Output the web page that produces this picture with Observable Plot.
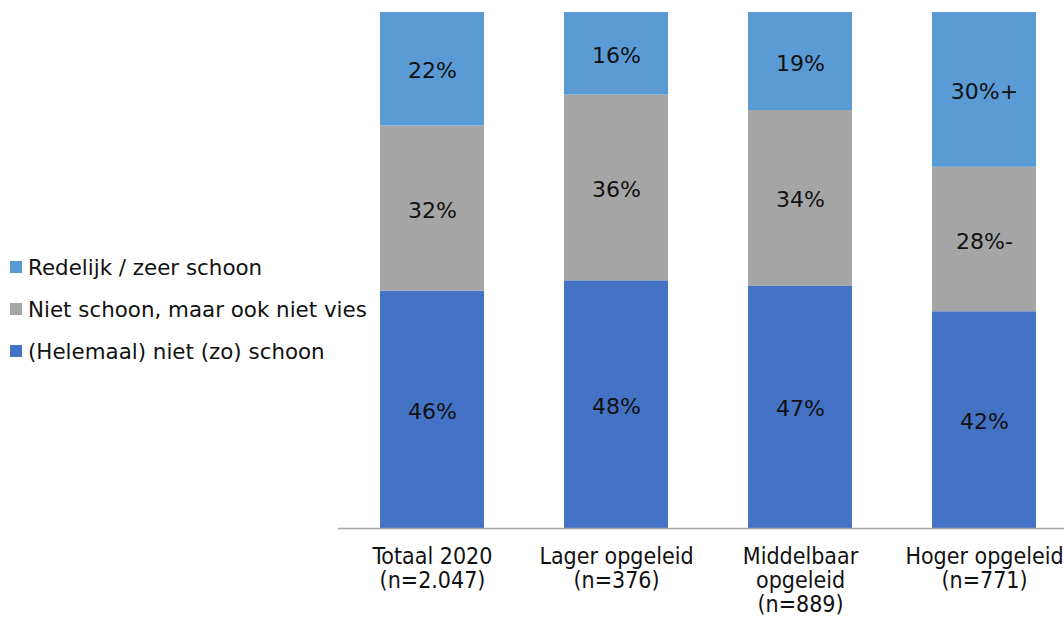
<!DOCTYPE html>
<html><head><meta charset="utf-8">
<script src="https://cdn.jsdelivr.net/npm/d3@7"></script>
<script src="https://cdn.jsdelivr.net/npm/@observablehq/plot@0.6"></script>
<style>
body{margin:0;background:#fff;}
#wrap{position:relative;width:1064px;height:622px;}
#legend{position:absolute;left:10px;top:246px;font-family:"DejaVu Sans",Verdana,sans-serif;font-size:21.4px;color:#111;}
#legend div{height:42px;display:flex;align-items:center;margin:0;white-space:nowrap;}
#legend span.sw{display:inline-block;width:12px;height:12px;margin-right:6px;}
</style></head>
<body><div id="wrap"><div id="legend"></div></div>
<script>
const categories = ["Totaal 2020", "Lager opgeleid", "Middelbaar", "Hoger opgeleid"];
const tickLabels = ["Totaal 2020\n(n=2.047)", "Lager opgeleid\n(n=376)", "Middelbaar\nopgeleid\n(n=889)", "Hoger opgeleid\n(n=771)"];
const seriesNames = ["(Helemaal) niet (zo) schoon", "Niet schoon, maar ook niet vies", "Redelijk / zeer schoon"];
const seriesColors = ["#4472C4", "#A5A5A5", "#5B9BD5"];
const nietSchoon = [46, 48, 47, 42];
const neutraal = [32, 36, 34, 28];
const schoon = [22, 16, 19, 30];
const labelSuffix = [["", "", "", ""], ["", "", "", "-"], ["", "", "", "+"]];

const seriesValues = [nietSchoon, neutraal, schoon];
const data = [];
seriesNames.forEach((s, si) => categories.forEach((c, ci) => {
  data.push({cat: c, series: s, value: seriesValues[si][ci], label: seriesValues[si][ci] + "%" + labelSuffix[si][ci]});
}));

const chart = Plot.plot({
  width: 1064, height: 622,
  marginLeft: 338, marginRight: 0, marginTop: 12, marginBottom: 94,
  style: {fontFamily: "'DejaVu Sans', Verdana, sans-serif", background: "#fff", overflow: "visible"},
  x: {domain: categories, range: [340, 1076], paddingInner: 0.435, paddingOuter: 0.2175, label: null},
  y: {domain: [0, 100], axis: null},
  color: {domain: seriesNames, range: seriesColors},
  marks: [
    Plot.barY(data, {x: "cat", y: "value", fill: "series", order: seriesNames}),
    Plot.text(data, Plot.stackY({x: "cat", y: "value", z: "series", order: seriesNames, text: "label", fontSize: 22, fill: "#111", dy: 2})),
    Plot.ruleY([0], {stroke: "#A6A6A6", strokeWidth: 1.3}),
    Plot.axisX({tickSize: 0, tickPadding: 18, tickFormat: (d) => tickLabels[categories.indexOf(d)], fontSize: 23, lineHeight: 1.05, fill: "#111", label: null, fontFamily: "'DejaVu Sans Condensed', 'Liberation Sans Narrow', sans-serif", fontStretch: "condensed"})
  ]
});
document.getElementById("wrap").prepend(chart);
chart.style.position = "absolute"; chart.style.left = "0"; chart.style.top = "0";

const leg = document.getElementById("legend");
[2, 1, 0].forEach(i => {
  const d = document.createElement("div");
  d.innerHTML = `<span class="sw" style="background:${seriesColors[i]}"></span>${seriesNames[i]}`;
  leg.appendChild(d);
});
</script></body></html>
